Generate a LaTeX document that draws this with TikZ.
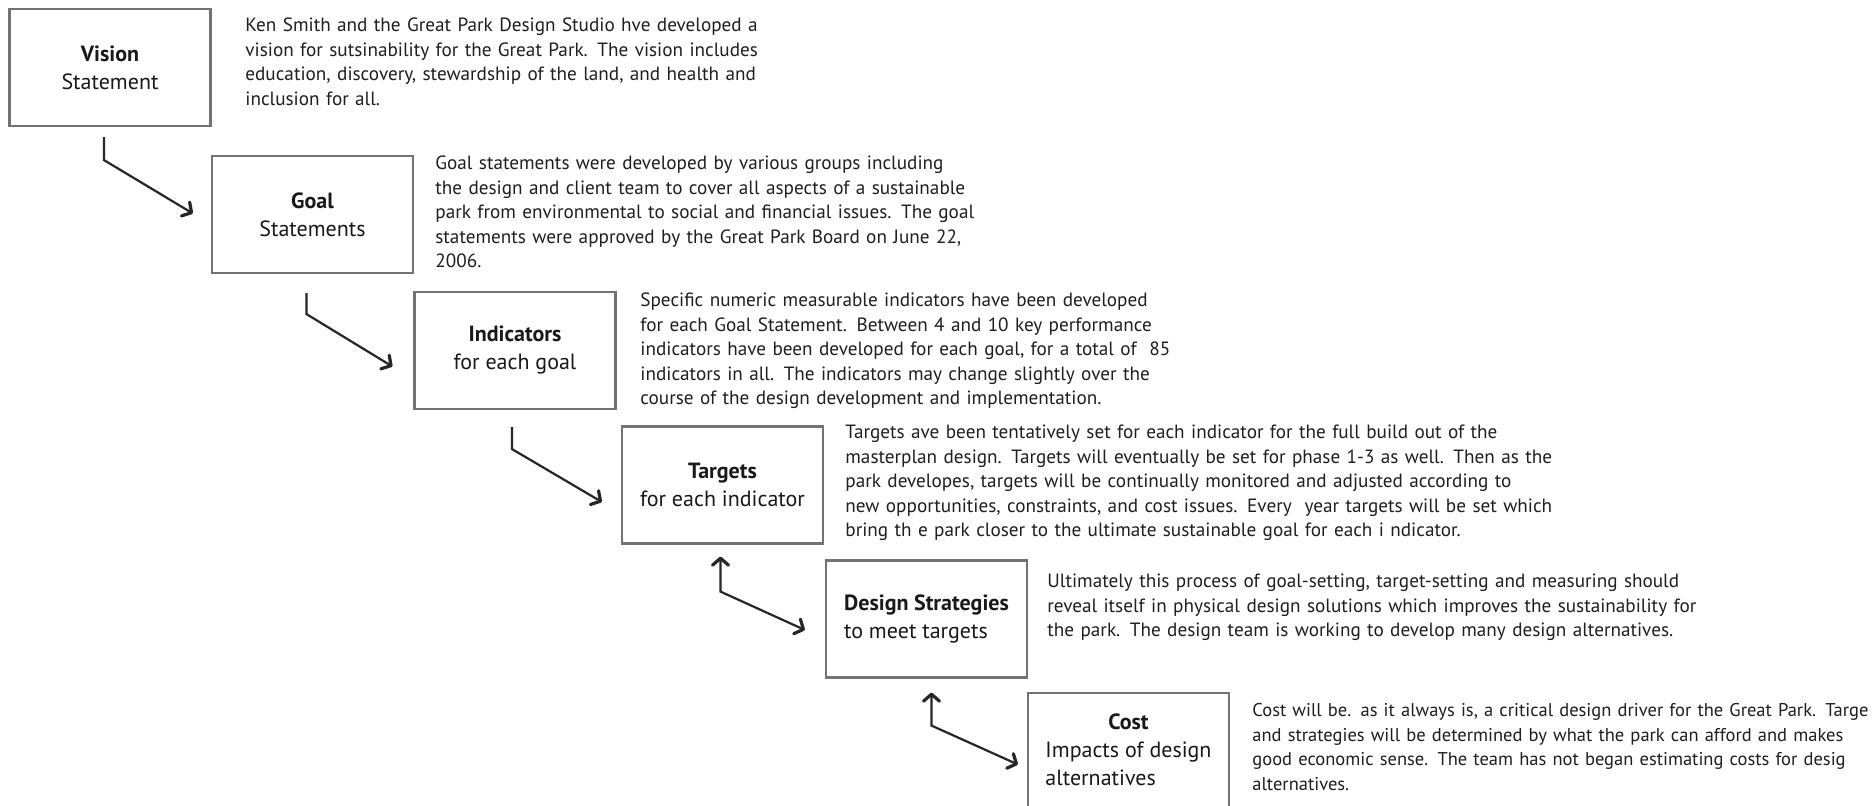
\documentclass[tikz,border=0pt]{standalone}
\usepackage{fontspec}
\setmainfont{PT Sans}
\usetikzlibrary{calc,arrows.meta}

\tikzset{
	stagebox/.style={draw=black!55, line width=1.1pt, fill=white, minimum width=100.5pt, minimum height=58.5pt, inner sep=2pt, align=center, font=\fontsize{11}{14}\selectfont, text=black!90},
	stagenote/.style={anchor=base west, inner sep=0pt, text width=460pt, align=left, font=\fontsize{9.6}{12.25}\selectfont, text=black!88},
	stagetip/.tip={Straight Barb[length=3.5pt,width=8pt,line width=1.6pt,round]},
	stagearrow/.style={line width=1.1pt, draw=black!85, -stagetip},
	backarrow/.style={line width=1.1pt, draw=black!85, stagetip-stagetip}
}

\begin{document}
\begin{tikzpicture}[x=0.5pt,y=-0.5pt]
			%%%%% START %%%%%
			
			\useasboundingbox (0,0) rectangle (1876,806);
			\clip (0,0) rectangle (1876,806);
			\fill[white] (0,0) rectangle (1876,806);
			
			\node[stagebox] (vision) at (110,67.5) {\textbf{Vision}\\Statement};
			\node[stagebox] (goal) at (312.5,214.5) {\textbf{Goal}\\Statements};
			\node[stagebox] (indic) at (515,350.5) {\textbf{Indicators}\\for each goal};
			\node[stagebox] (target) at (722.5,485) {\textbf{Targets}\\for each indicator};
			\node[stagebox, align=left] (design) at (926.5,619) {\textbf{Design Strategies}\\to meet targets};
			\node[stagebox] (cost) at (1128.5,751.5) {\begin{tabular}{@{}l@{}}\multicolumn{1}{@{}c@{}}{\textbf{Cost}}\\Impacts of design\\alternatives\end{tabular}};
			
			\node[stagenote] (visionnote) at (245,32) {Ken Smith and the Great Park Design Studio hve developed a\\vision for sutsinability for the Great Park.  The vision includes\\education, discovery, stewardship of the land, and health and\\inclusion for all.};
			\node[stagenote] (goalnote) at (435,170) {Goal statements were developed by various groups including\\the design and client team to cover all aspects of a sustainable\\park from environmental to social and financial issues.  The goal\\statements were approved by the Great Park Board on June 22,\\2006.};
			\node[stagenote] (indicnote) at (640,307) {Specific numeric measurable indicators have been developed\\for each Goal Statement.  Between 4 and 10 key performance\\indicators have been developed for each goal, for a total of~ 85\\indicators in all. The indicators may change slightly over the\\course of the design development and implementation.};
			\node[stagenote] (targetnote) at (845,439) {Targets ave been tentatively set for each indicator for the full build out of the\\masterplan design.  Targets will eventually be set for phase 1-3 as well.  Then as the\\park developes, targets will be continually monitored and adjusted according to\\new opportunities, constraints, and cost issues.  Every~ year targets will be set which\\bring th e park closer to the ultimate sustainable goal for each i ndicator.};
			\node[stagenote] (designnote) at (1047,588) {Ultimately this process of goal-setting, target-setting and measuring should\\reveal itself in physical design solutions which improves the sustainability for\\the park. The design team is working to develop many design alternatives.};
			\node[stagenote, font=\fontsize{9.25}{12.25}\selectfont] (costnote) at (1252,717) {Cost will be. as it always is, a critical design driver for the Great Park. Targe\\and strategies will be determined by what the park can afford and makes\\good economic sense. The team has not began estimating costs for desig\\alternatives.};
			
			\draw[stagearrow] ($(vision.south)+(-6,10)$) -- ++(0,23) -- ($(goal.west)+(-18,-1)$);
			\draw[stagearrow] ($(goal.south)+(-6,19)$) -- ++(0,21) -- ($(indic.west)+(-21,16)$);
			\draw[stagearrow] ($(indic.south)+(-3,17)$) -- ++(0,22) -- ($(target.west)+(-19,17)$);
			\draw[backarrow] ($(target.south)+(-2,12)$) -- ++(0,35) -- ($(design.west)+(-20,11)$);
			\draw[backarrow] ($(design.south)+(5,14)$) -- ++(0,33) -- ($(cost.west)+(-9,13)$);
			
			%%%%% END %%%%%
		\end{tikzpicture}
\end{document}
